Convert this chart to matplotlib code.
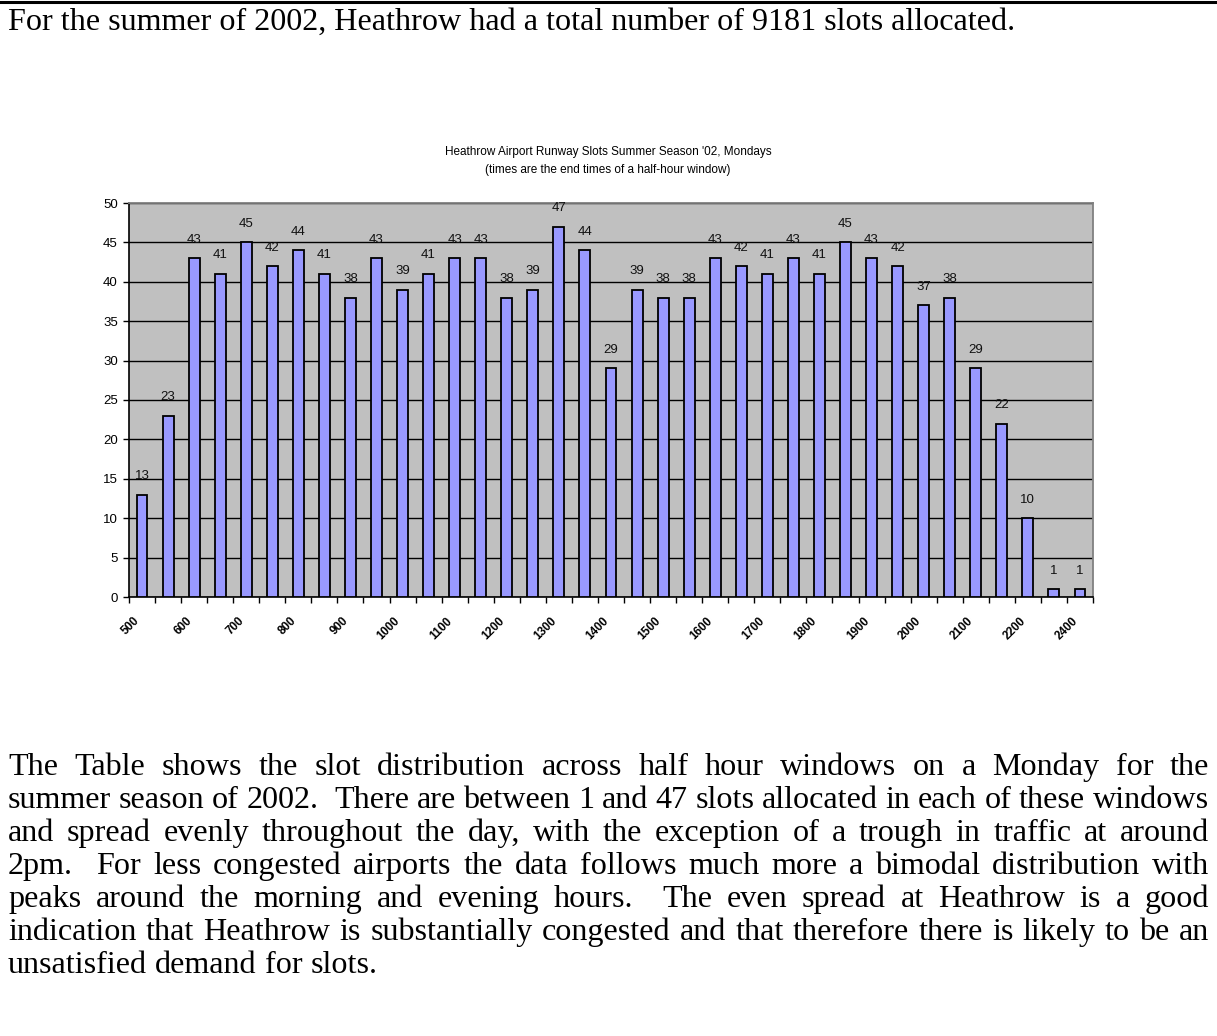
import matplotlib
matplotlib.use('Agg')
import matplotlib.pyplot as plt
from matplotlib.lines import Line2D

# --- data ---
slots = [13, 23, 43, 41, 45, 42, 44, 41, 38, 43, 39, 41, 43, 43, 38, 39, 47, 44, 29,
         39, 38, 38, 43, 42, 41, 43, 41, 45, 43, 42, 37, 38, 29, 22, 10, 1, 1]
tick_labels = ['500', '600', '700', '800', '900', '1000', '1100', '1200', '1300', '1400',
               '1500', '1600', '1700', '1800', '1900', '2000', '2100', '2200', '2400']
y_ticks = [0, 5, 10, 15, 20, 25, 30, 35, 40, 45, 50]

header = "For the summer of 2002, Heathrow had a total number of 9181 slots allocated."
chart_title = ["Heathrow Airport Runway Slots Summer Season '02, Mondays",
               "(times are the end times of a half-hour window)"]
paragraph = [
    "The Table shows the slot distribution across half hour windows on a Monday for the",
    "summer season of 2002.  There are between 1 and 47 slots allocated in each of these windows",
    "and spread evenly throughout the day, with the exception of a trough in traffic at around",
    "2pm.  For less congested airports the data follows much more a bimodal distribution with",
    "peaks around the morning and evening hours.  The even spread at Heathrow is a good",
    "indication that Heathrow is substantially congested and that therefore there is likely to be an",
    "unsatisfied demand for slots.",
]

W, H = 1217, 1036
SERIF = 'Liberation Serif'
SANS = 'Liberation Sans'

fig = plt.figure(figsize=(W / 100, H / 100), dpi=100)
fig.patch.set_facecolor('white')
renderer = fig.canvas.get_renderer()


def fx(px):
    return px / W


def fy(py):
    return 1 - py / H


def text_width(s, size):
    t = fig.text(0, 0, s, fontsize=size, family=SERIF)
    wd = t.get_window_extent(renderer).width
    t.remove()
    return wd


# pick a body size: header about 1010 px wide, but every justified line must still fit
left_px, right_px = 8, 1209
space10 = text_width('a a', 10) - text_width('aa', 10)
body_size = 10 * 1010 / text_width(header, 10)
for line in paragraph[:-1]:
    words = line.split(' ')
    nat = sum(text_width(wd, 10) for wd in words if wd) + (len(words) - 1) * space10 * 0.8
    body_size = min(body_size, 10 * (right_px - left_px) / nat)
space_w = space10 * body_size / 10

# rule at top of page
fig.add_artist(Line2D([0, 1], [fy(2), fy(2)], color='black', lw=2.2))
fig.text(fx(8), fy(30), header, family=SERIF, fontsize=body_size, va='baseline')

# --- chart ---
ax = fig.add_axes([fx(129), fy(597), fx(1093) - fx(129), (597 - 203) / H])
ax.set_facecolor('#C0C0C0')
xs = list(range(len(slots)))
ax.bar(xs, slots, width=0.42, color='#9999FF', edgecolor='black', linewidth=1.3, zorder=3)
for x, v in zip(xs, slots):
    ax.annotate(str(v), (x, v), xytext=(0, 9), textcoords='offset points',
                ha='center', va='bottom', fontsize=9.5, family=SANS, color='#111111')

ax.set_xlim(-0.5, len(slots) - 0.5)
ax.set_ylim(0, 50)
ax.set_yticks(y_ticks)
ax.set_yticklabels([str(v) for v in y_ticks], family=SANS, fontsize=9.5)
ax.yaxis.grid(True, color='black', lw=1.0)
ax.set_axisbelow(True)
ax.tick_params(axis='y', direction='out', length=4, width=1, pad=4)

ax.set_xticks(xs[::2])
ax.set_xticklabels(tick_labels, rotation=45, ha='right', fontsize=8.5,
                   fontweight='bold', family=SANS)
ax.set_xticks([x - 0.5 for x in xs] + [len(slots) - 0.5], minor=True)
ax.tick_params(axis='x', which='major', length=0, pad=13)
ax.tick_params(axis='x', which='minor', length=4, width=1, direction='out')

for side in ['top', 'right']:
    ax.spines[side].set_color('#808080')
    ax.spines[side].set_linewidth(1.3)
for side in ['left', 'bottom']:
    ax.spines[side].set_color('black')
    ax.spines[side].set_linewidth(1.2)

fig.text(fx(608), fy(152), chart_title[0], ha='center', va='center',
         fontsize=8.5, family=SANS)
fig.text(fx(608), fy(170), chart_title[1], ha='center', va='center',
         fontsize=8.5, family=SANS)

# --- justified paragraph ---
baselines = [775, 808, 841, 874, 907, 940, 973]
for i, (line, base) in enumerate(zip(paragraph, baselines)):
    words = line.split(' ')
    objs = []
    widths = []
    for word in words:
        if word:
            o = fig.text(0, fy(base), word, fontsize=body_size, family=SERIF, va='baseline')
            widths.append(o.get_window_extent(renderer).width)
        else:
            o = None
            widths.append(0.0)
        objs.append(o)
    last = i == len(paragraph) - 1
    gap = space_w if last else (right_px - left_px - sum(widths)) / (len(words) - 1)
    x = left_px
    for o, wd in zip(objs, widths):
        if o is not None:
            o.set_x(fx(x))
        x += wd + gap

fig.savefig('out.png', dpi=100, facecolor='white')
